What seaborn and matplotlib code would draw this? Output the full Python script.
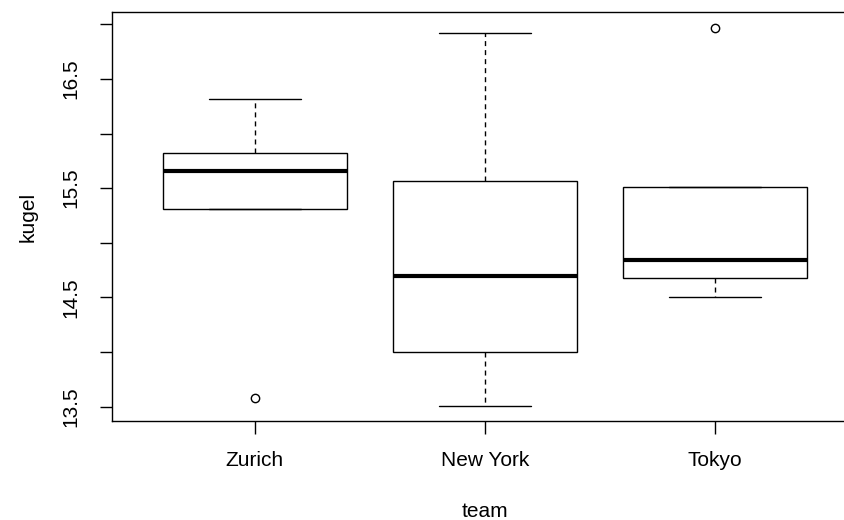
import matplotlib
matplotlib.use("Agg")
import matplotlib.pyplot as plt
import seaborn as sns
import pandas as pd

# Ball measurements per team
teams = ["Zurich", "New York", "Tokyo"]
zurich = [13.58, 15.31, 15.66, 15.82, 16.32]
new_york = [13.51, 14.00, 14.70, 15.57, 16.92]
tokyo = [14.50, 14.68, 14.84, 15.515, 16.97]

y_ticks = [13.5, 14.0, 14.5, 15.0, 15.5, 16.0, 16.5, 17.0]
y_labels = ["13.5", "", "14.5", "", "15.5", "", "16.5", ""]

df = pd.DataFrame({
    "team": ["Zurich"] * len(zurich) + ["New York"] * len(new_york) + ["Tokyo"] * len(tokyo),
    "kugel": zurich + new_york + tokyo,
})

sns.set_style("white")
plt.rcParams["font.family"] = ["Liberation Sans", "DejaVu Sans"]
plt.rcParams["text.color"] = "black"
plt.rcParams["axes.labelcolor"] = "black"

fig = plt.figure(figsize=(8.45, 5.2), dpi=100)
ax = fig.add_axes([0.1329, 0.191, 0.8814, 0.785])

sns.boxplot(
    data=df, x="team", y="kugel", order=teams, ax=ax,
    color="white", linecolor="black", width=0.8, whis=1.5,
    boxprops=dict(linewidth=1.0, edgecolor="black", facecolor="white"),
    medianprops=dict(linewidth=3.0, color="black"),
    whiskerprops=dict(linewidth=1.0, color="black", linestyle=(0, (3.6, 2.9))),
    capprops=dict(linewidth=1.0, color="black"),
    flierprops=dict(marker="o", markersize=6, markerfacecolor="none",
                    markeredgecolor="black", markeredgewidth=1.0),
)

ax.set_xlim(-0.62, 2.62)
ax.set_ylim(13.372, 17.108)
ax.set_yticks(y_ticks)
ax.set_yticklabels(y_labels, rotation=90, va="center")
ax.set_xticks(range(len(teams)))
ax.set_xticklabels(teams)

ax.tick_params(axis="both", direction="out", length=9, width=1.0, color="black",
               labelsize=15, labelcolor="black")
ax.tick_params(axis="y", pad=14, left=True)
ax.tick_params(axis="x", pad=13, bottom=True)

for s in ax.spines.values():
    s.set_color("black")
    s.set_linewidth(1.0)
    s.set_visible(True)

ax.set_xlabel("team", fontsize=15, va="center", color="black")
ax.set_ylabel("kugel", fontsize=15, va="center", color="black")
ax.xaxis.set_label_coords(0.5, -0.2237)
ax.yaxis.set_label_coords(-0.1132, 0.5)

fig.savefig("out.png", dpi=100)
